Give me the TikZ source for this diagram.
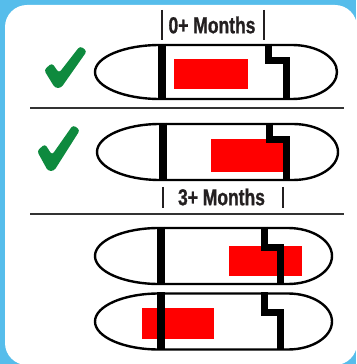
\documentclass[tikz,border=0pt]{standalone}
\usepackage{fontspec}
\setmainfont{Liberation Sans}
\newfontfamily\labelfont{Liberation Sans Bold}[FakeStretch=0.76,FakeBold=1]
\usepackage{xcolor}
\definecolor{panelblue}{HTML}{56BDEB}
\definecolor{tickgreen}{HTML}{0E8A3E}
\definecolor{labelgray}{HTML}{231F20}
\definecolor{rulegray}{HTML}{333333}

\begin{document}
\begin{tikzpicture}[x=1pt,y=1pt,
  capsule/.style={black,line width=2.4pt},
  wall/.style={black,line width=8pt,miter limit=10},
  notch/.style={black,line width=7pt,miter limit=10},
  dose/.style={fill=red},
  tick/.style={fill=tickgreen,rounded corners=3pt},
  months/.style={labelgray,font=\labelfont\fontsize{23}{23}\selectfont,inner sep=0pt},
  bracket/.style={labelgray,line width=2.4pt}]
\useasboundingbox (0,0) rectangle (356,364);
\fill[panelblue] (0,0) rectangle (356,364);
\fill[white,rounded corners=22pt] (5,-1) rectangle (357,359);
% ---- separators
\draw[rulegray,line width=2pt] (30,256) -- (344,256);
\draw[rulegray,line width=2pt] (30,150) -- (344,150);
% ---- row 1: 0+ months
\begin{scope}[yshift=292pt]
\fill[tick] (44,2) -- (52,9) -- (59,-1) -- (80,26) -- (87,21) -- (61,-16) -- (55,-16) -- cycle;
\fill[dose] (174,-17) rectangle (248,13);
\draw[capsule] (160,27) -- (292,27) arc[start angle=90,end angle=-90,x radius=45pt,y radius=27pt] -- (160,-27) arc[start angle=-90,end angle=-270,x radius=65pt,y radius=27pt] -- cycle;
\draw[wall] (162,28) -- (162,-28);
\draw[notch] (268.5,28) -- (268.5,11) -- (286,11) -- (286,-28);
\draw[bracket] (162,62) -- (162,32);
\draw[bracket] (264,62) -- (264,32);
\node[months] (lab1) at (212,47) {0+ Months};
\end{scope}
% ---- row 2: 3+ months
\begin{scope}[yshift=212pt]
\fill[tick] (37,1) -- (45,8) -- (52,-3) -- (73,27) -- (80,22) -- (54,-19) -- (48,-19) -- cycle;
\fill[dose] (211,-20) rectangle (283,13);
\draw[capsule] (160,28) -- (293,28) arc[start angle=90,end angle=-90,x radius=45pt,y radius=28pt] -- (160,-28) arc[start angle=-90,end angle=-270,x radius=63pt,y radius=28pt] -- cycle;
\draw[wall] (162.5,29) -- (162.5,-29);
\draw[notch] (269,29) -- (269,12.5) -- (286,12.5) -- (286,-29);
\draw[bracket] (163,-35) -- (163,-56);
\draw[bracket] (283,-35) -- (283,-56);
\node[months] (lab2) at (221.5,-45) {3+ Months};
\end{scope}
% ---- row 3: too late
\begin{scope}[yshift=108pt]
\fill[dose] (229,-20) rectangle (302,10);
\draw[capsule] (159,28) -- (288,28) arc[start angle=90,end angle=-90,x radius=44pt,y radius=28pt] -- (159,-28) arc[start angle=-90,end angle=-270,x radius=64pt,y radius=28pt] -- cycle;
\draw[wall] (161,29) -- (161,-29);
\draw[notch] (264,29) -- (264,8.5) -- (280,8.5) -- (280,-29);
\end{scope}
% ---- row 4: too early
\begin{scope}[yshift=42.5pt]
\fill[dose] (142,-17.5) rectangle (214,13.5);
\draw[capsule] (159,28) -- (288,28) arc[start angle=90,end angle=-90,x radius=44pt,y radius=28pt] -- (159,-28) arc[start angle=-90,end angle=-270,x radius=64pt,y radius=28pt] -- cycle;
\draw[wall] (161,29) -- (161,-29);
\draw[notch] (264,29) -- (264,9) -- (280,9) -- (280,-29);
\end{scope}
\end{tikzpicture}
\end{document}
